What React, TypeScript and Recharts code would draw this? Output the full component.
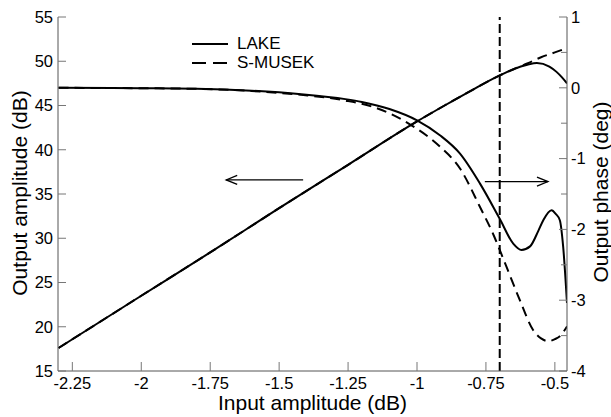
import React from 'react';
import { LineChart, Line, XAxis, YAxis, ReferenceLine, Legend, Label } from 'recharts';

// amplitude (left axis, dB)
const lakeAmpX = [-2.3, -2.0, -1.75, -1.5, -1.25, -1.0, -0.9, -0.8, -0.7, -0.65, -0.6, -0.565, -0.52, -0.494, -0.475, -0.456];
const lakeAmpY = [17.6, 23.5, 28.4, 33.4, 38.3, 43.2, 45.0, 46.75, 48.4, 49.1, 49.6, 49.8, 49.4, 48.8, 48.2, 47.5];
const musekAmpX = [-2.3, -2.0, -1.75, -1.5, -1.25, -1.0, -0.9, -0.8, -0.7, -0.65, -0.6, -0.55, -0.5, -0.456];
const musekAmpY = [17.6, 23.5, 28.4, 33.4, 38.3, 43.2, 45.0, 46.75, 48.4, 49.1, 49.75, 50.45, 51.0, 51.5];

// phase (right axis, deg)
const lakePhaseX = [-2.3, -2.0, -1.8, -1.6, -1.42, -1.26, -1.2, -1.1, -1.0, -0.917, -0.844, -0.772, -0.7, -0.651, -0.621, -0.59, -0.56, -0.542, -0.512, -0.497, -0.482, -0.47, -0.456];
const lakePhaseY = [0, -0.005, -0.012, -0.04, -0.09, -0.16, -0.2, -0.3, -0.46, -0.67, -0.93, -1.35, -1.85, -2.2, -2.29, -2.24, -2.02, -1.87, -1.73, -1.78, -1.87, -2.24, -3.04];
const musekPhaseX = [-2.3, -2.0, -1.8, -1.6, -1.42, -1.26, -1.16, -1.1, -1.02, -0.917, -0.844, -0.772, -0.72, -0.7, -0.66, -0.627, -0.579, -0.55, -0.524, -0.5, -0.482, -0.456];
const musekPhaseY = [0, -0.006, -0.015, -0.045, -0.1, -0.18, -0.27, -0.36, -0.53, -0.83, -1.14, -1.68, -2.1, -2.29, -2.68, -3.0, -3.42, -3.54, -3.58, -3.55, -3.51, -3.37];

const xTicks = [-2.25, -2, -1.75, -1.5, -1.25, -1, -0.75, -0.5];
const ampTicks = [15, 20, 25, 30, 35, 40, 45, 50, 55];
const phaseTicks = [-4, -3.5, -3, -2.5, -2, -1.5, -1, -0.5, 0, 0.5, 1];
const markerX = -0.7;

const FONT = '"Liberation Sans", Arial, Helvetica, sans-serif';
const FRAME = '#555';
const TICK = '#777';
const DASH = '10 6';

const zip = (xs: number[], ys: number[]) => xs.map((x, i) => ({ x, y: ys[i] }));

function BottomTick({ x, y, payload }: any) {
  return (
    <g>
      <line x1={x} x2={x} y1={y} y2={y - 9} stroke={TICK} />
      <text x={x} y={y + 18} textAnchor="middle" fontSize={16.5} fontFamily={FONT} fill="#000">
        {String(payload.value)}
      </text>
    </g>
  );
}

function TopTick({ x, y }: any) {
  return <line x1={x} x2={x} y1={y} y2={y + 9} stroke={TICK} />;
}

function LeftTick({ x, y, payload }: any) {
  return (
    <g>
      <line x1={x} x2={x + 8} y1={y} y2={y} stroke={TICK} />
      <text x={x - 5} y={y} dy="0.35em" textAnchor="end" fontSize={16.5} fontFamily={FONT} fill="#000">
        {payload.value}
      </text>
    </g>
  );
}

function RightTick({ x, y, payload }: any) {
  const major = Number.isInteger(payload.value);
  return (
    <g>
      <line x1={x} x2={x - (major ? 8 : 6)} y1={y} y2={y} stroke={TICK} />
      {major && (
        <text x={x + 4} y={y} dy="0.35em" textAnchor="start" fontSize={16.5} fontFamily={FONT} fill="#000">
          {payload.value}
        </text>
      )}
    </g>
  );
}

function Arrow({ x1, y1, x2, y2 }: any) {
  const d = x2 > x1 ? 1 : -1;
  return (
    <g>
      <line x1={x1} y1={y1} x2={x2} y2={y2} stroke="#000" strokeWidth={1.3} />
      <polyline
        points={`${x2 - d * 11},${y2 - 4.5} ${x2},${y2} ${x2 - d * 11},${y2 + 4.5}`}
        fill="none"
        stroke="#000"
        strokeWidth={1.3}
      />
    </g>
  );
}

function LegendBox({ payload }: any) {
  const items = (payload || []).filter((p: any) => p.type !== 'none');
  return (
    <div style={{ fontFamily: FONT }}>
      {items.map((p: any) => (
        <div key={p.value} style={{ display: 'flex', alignItems: 'center', height: 19 }}>
          <svg width={36} height={4}>
            <line x1={0} x2={36} y1={2} y2={2} stroke="#000" strokeWidth={2} strokeDasharray={p.payload?.strokeDasharray ? '14 7' : undefined} />
          </svg>
          <span style={{ marginLeft: 9, fontSize: 17, color: '#000' }}>{p.value}</span>
        </div>
      ))}
    </div>
  );
}

export default function App() {
  return (
    <div style={{ width: 611, height: 417, background: '#fff' }}>
      <style>{'body{margin:0}'}</style>
      <LineChart width={611} height={417} margin={{ top: 17, right: 0, left: 0, bottom: 0 }}>
        <XAxis
          type="number"
          dataKey="x"
          domain={[-2.302, -0.456]}
          allowDataOverflow
          ticks={xTicks}
          height={46}
          tickSize={0}
          tickMargin={0}
          tick={<BottomTick />}
          axisLine={{ stroke: FRAME }}
          tickLine={false}
        >
          <Label value="Input amplitude (dB)" position="insideBottom" offset={7} style={{ fontSize: 21, fill: '#000', fontFamily: FONT }} />
        </XAxis>
        <XAxis
          xAxisId="top"
          orientation="top"
          type="number"
          domain={[-2.302, -0.456]}
          allowDataOverflow
          ticks={xTicks}
          height={0}
          tickSize={0}
          tickMargin={0}
          tick={<TopTick />}
          axisLine={{ stroke: FRAME }}
          tickLine={false}
        />
        <YAxis
          yAxisId="amp"
          domain={[15, 55]}
          ticks={ampTicks}
          width={58}
          tickSize={0}
          tickMargin={0}
          tick={<LeftTick />}
          axisLine={{ stroke: FRAME }}
          tickLine={false}
        >
          <Label
            content={() => (
              <text transform="translate(27,193) rotate(-90)" textAnchor="middle" fontSize={21} fontFamily={FONT} fill="#000">
                Output amplitude (dB)
              </text>
            )}
          />
        </YAxis>
        <YAxis
          yAxisId="phase"
          orientation="right"
          domain={[-4, 1]}
          ticks={phaseTicks}
          width={44}
          tickSize={0}
          tickMargin={0}
          tick={<RightTick />}
          axisLine={{ stroke: FRAME }}
          tickLine={false}
        >
          <Label
            content={() => (
              <text transform="translate(608,192) rotate(-90)" textAnchor="middle" fontSize={21} fontFamily={FONT} fill="#000">
                Output phase (deg)
              </text>
            )}
          />
        </YAxis>

        <ReferenceLine yAxisId="amp" x={markerX} stroke="#000" strokeWidth={2} strokeDasharray="9 4" />
        <ReferenceLine
          yAxisId="amp"
          segment={[{ x: -1.413, y: 36.59 }, { x: -1.692, y: 36.59 }]}
          shape={(p: any) => <Arrow {...p} />}
        />
        <ReferenceLine
          yAxisId="amp"
          segment={[{ x: -0.754, y: 36.4 }, { x: -0.525, y: 36.4 }]}
          shape={(p: any) => <Arrow {...p} />}
        />

        <Line yAxisId="amp" data={zip(musekAmpX, musekAmpY)} dataKey="y" name="S-MUSEK-amp" legendType="none" type="monotone" stroke="#000" strokeWidth={2} strokeDasharray={DASH} dot={false} isAnimationActive={false} />
        <Line yAxisId="amp" data={zip(lakeAmpX, lakeAmpY)} dataKey="y" name="LAKE" type="monotone" stroke="#000" strokeWidth={2} dot={false} isAnimationActive={false} />
        <Line yAxisId="phase" data={zip(musekPhaseX, musekPhaseY)} dataKey="y" name="S-MUSEK" type="monotone" stroke="#000" strokeWidth={2} strokeDasharray={DASH} dot={false} isAnimationActive={false} />
        <Line yAxisId="phase" data={zip(lakePhaseX, lakePhaseY)} dataKey="y" name="LAKE-phase" legendType="none" type="monotone" stroke="#000" strokeWidth={2} dot={false} isAnimationActive={false} />

        <Legend
          layout="vertical"
          verticalAlign="middle"
          align="center"
          wrapperStyle={{ left: 192, top: 34, width: 160 }}
          content={<LegendBox />}
        />
      </LineChart>
    </div>
  );
}
